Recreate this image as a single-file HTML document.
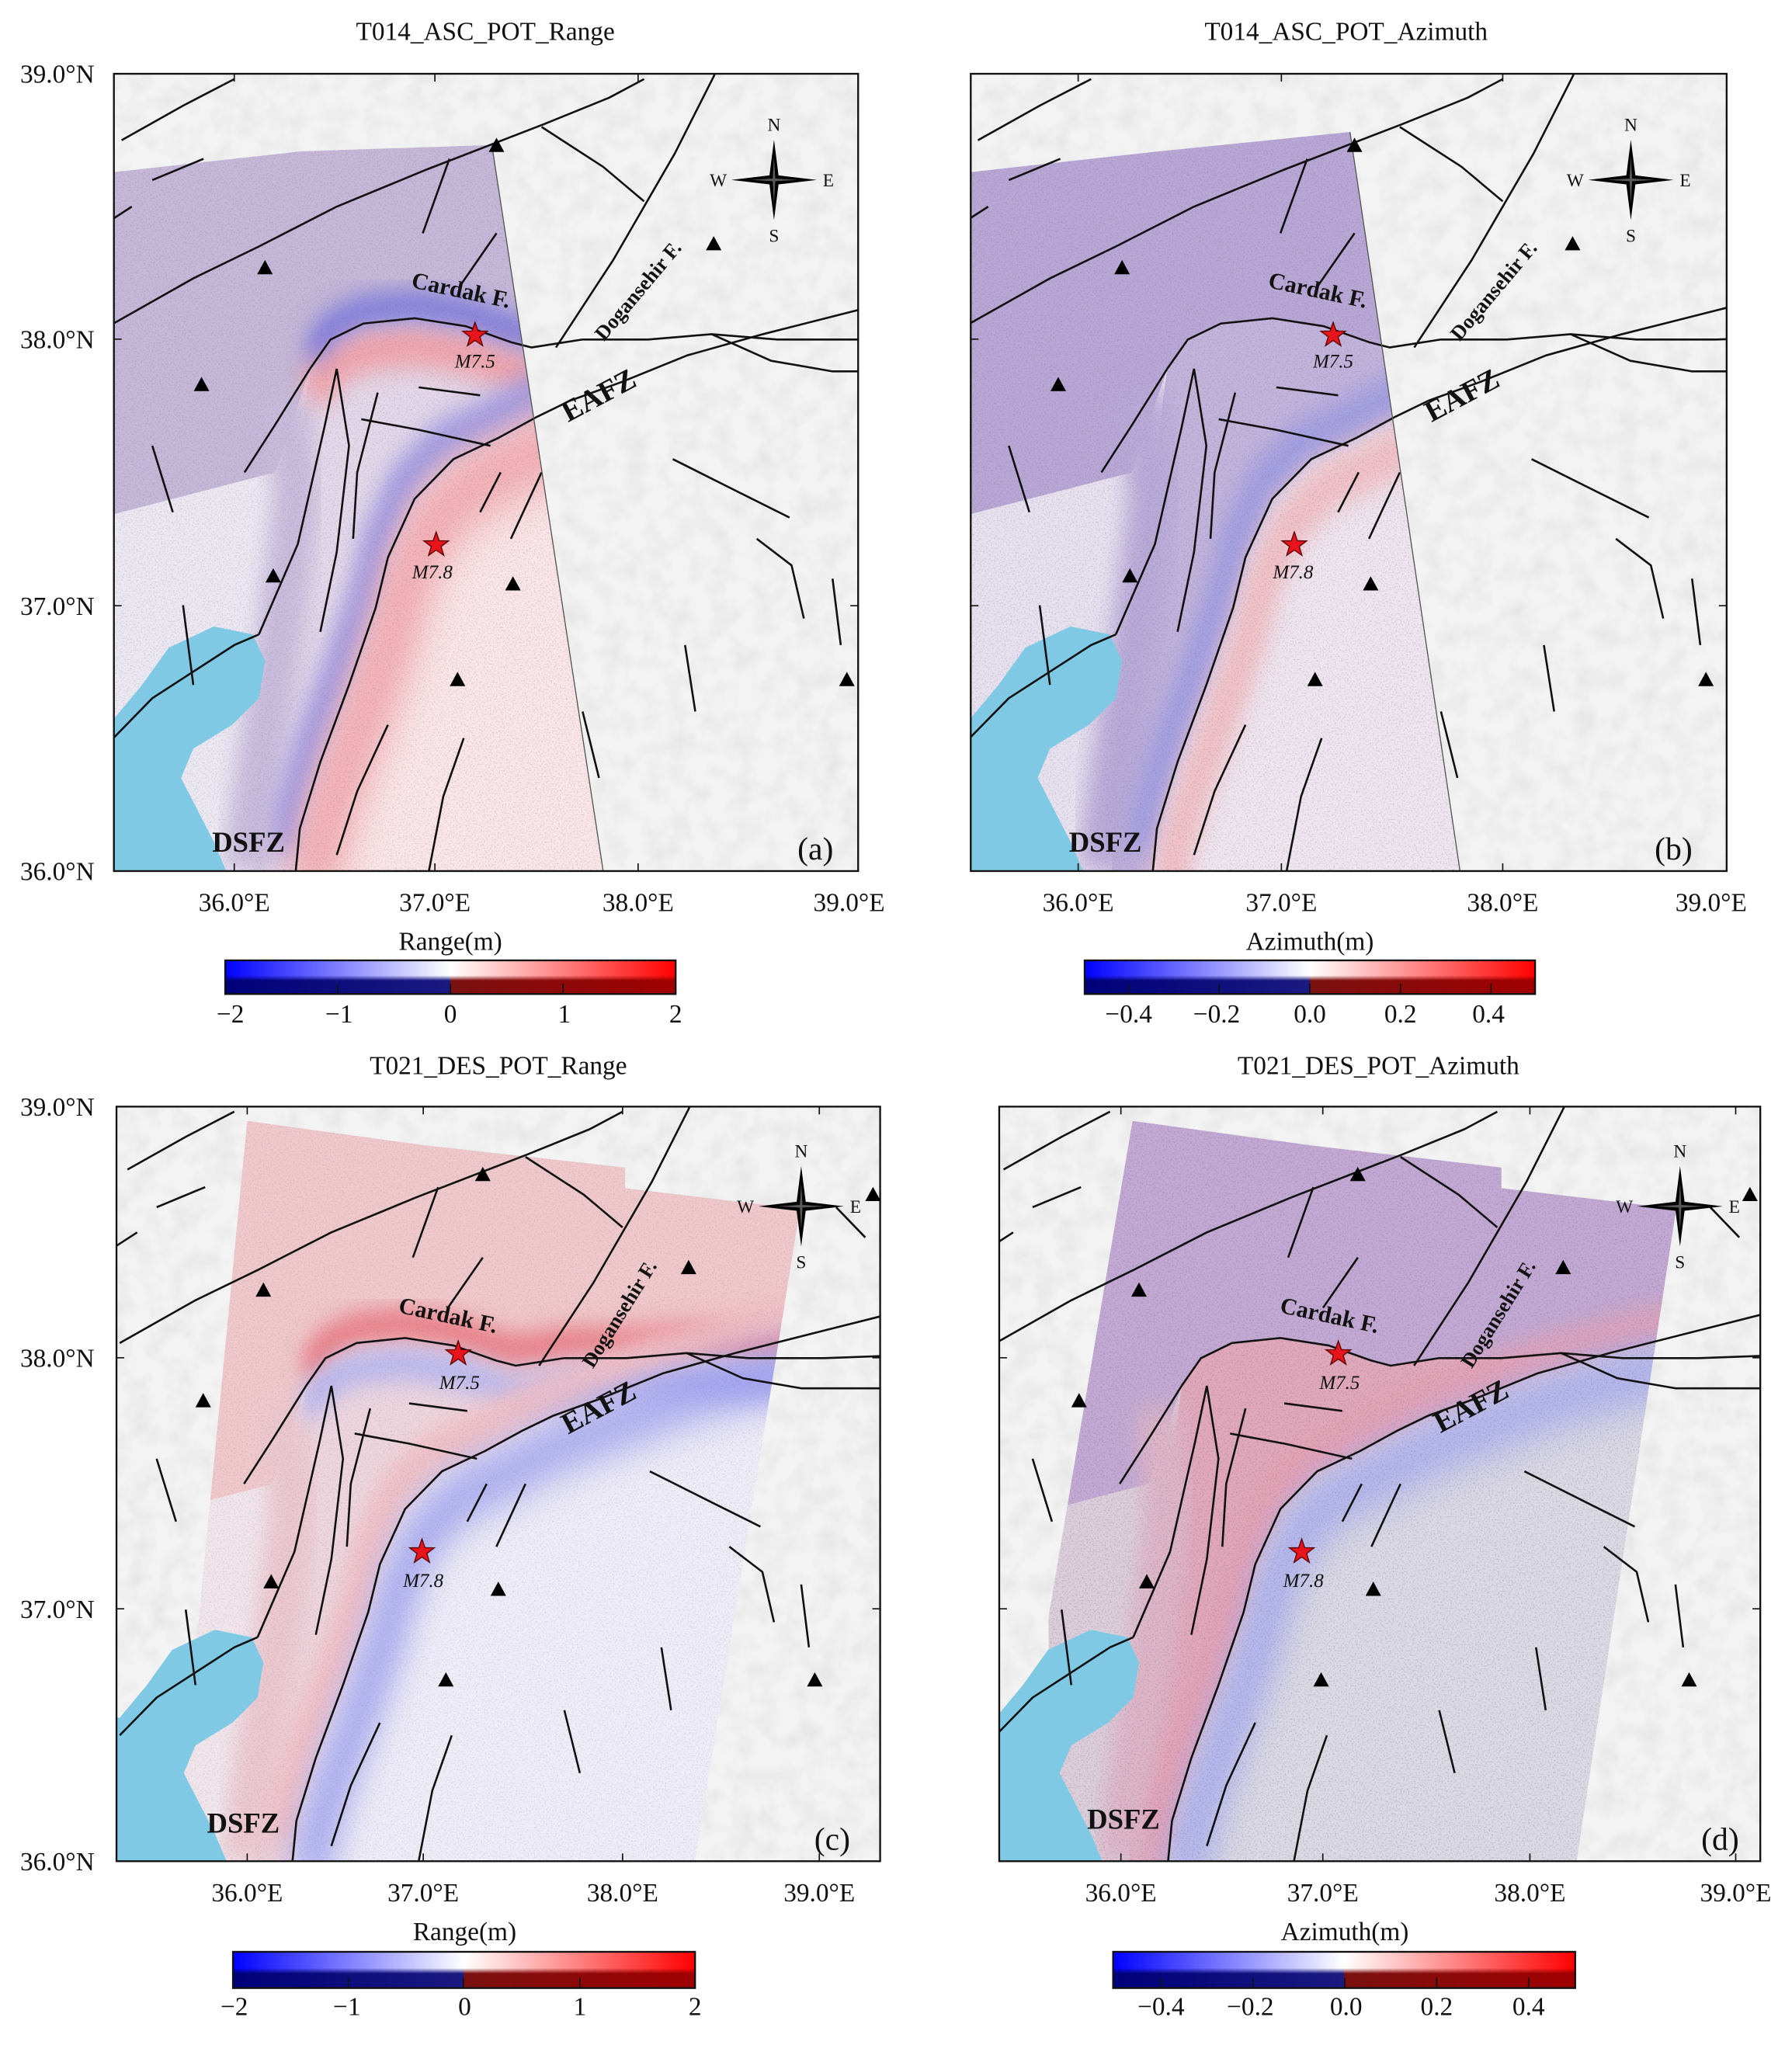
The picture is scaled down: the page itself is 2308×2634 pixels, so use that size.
<!DOCTYPE html>
<html><head><meta charset="utf-8"><style>
html,body{margin:0;padding:0;background:#fff;}
svg{display:block;}
text{font-family:"Liberation Serif",serif;fill:#111;}
</style></head><body>
<svg width="2308" height="2634" viewBox="0 0 1384.5 1580" preserveAspectRatio="none" xmlns="http://www.w3.org/2000/svg">
<defs>
<filter id="noise" x="0" y="0" width="100%" height="100%"><feTurbulence type="fractalNoise" baseFrequency="0.85" numOctaves="1" seed="3"/><feColorMatrix type="matrix" values="0 0 0 0 0.1  0 0 0 0 0.1  0 0 0 0 0.15  0 0 0 -2.4 1.25"/></filter>
<filter id="hill" x="0" y="0" width="100%" height="100%"><feTurbulence type="fractalNoise" baseFrequency="0.06" numOctaves="3" seed="7"/><feColorMatrix type="matrix" values="0 0 0 0 0.55  0 0 0 0 0.55  0 0 0 0 0.55  0 0 0 -1.2 0.75"/></filter>
<filter id="blur" x="-50%" y="-50%" width="200%" height="200%"><feGaussianBlur stdDeviation="5"/></filter>
<filter id="blur2" x="-50%" y="-50%" width="200%" height="200%"><feGaussianBlur stdDeviation="9"/></filter>
<path id="NORTH" d="M-80,-20 L340,-20 L340,100 L304,100 L265,100 L233,98 L202,100 L170,100 L145,103 L135,101 L113,95 L88,92 L63,94 L47,100 L37,111 L20,150 L-80,170 Z"/>
<path id="MID" d="M37,111 L47,100 L63,94 L88,92 L113,95 L135,101 L145,103 L170,100 L202,100 L233,98 L265,100 L304,100 L340,100 L340,85 L304,89 L258,98 L221,106 L189,116 L164,123 L148,129 L129,137 L107,145 L88,160 L75,182 L69,201 L56,230 L42,259 L32,284 L30,300 L10,300 L12,250 L20,200 L30,150 Z"/>
<path id="SOUTH" d="M30,300 L32,284 L42,259 L56,230 L69,201 L75,182 L88,160 L107,145 L129,137 L148,129 L164,123 L189,116 L221,106 L258,98 L304,89 L340,85 L340,320 L30,320 Z"/>
<path id="WEST" d="M-80,170 L20,150 L37,111 L30,150 L20,200 L12,250 L10,300 L-80,300 Z"/>
<path id="EAFZL" d="M30,300 L32,284 L42,259 L56,230 L69,201 L75,182 L88,160 L107,145 L129,137 L148,129 L164,123 L189,116 L221,106 L258,98 L304,89 L340,82"/>
<path id="CARL" d="M37,111 L47,100 L63,94 L88,92 L113,95 L135,101 L145,103 L170,100 L202,100 L233,98 L265,100 L304,100 L340,99"/>
<path id="LAKE" d="M-90,243 L-59,243 L-45,230 L-32,216 L-10,208 L9,211 L15,221 L12,235 L-1,245 L-20,254 L-26,265 L-20,274 L-10,289 L-4,300 L-4,320 L-90,320 Z"/>
<g id="FAULTS" fill="none" stroke="#111" stroke-width="2.6" stroke-linejoin="round">
<path vector-effect="non-scaling-stroke" d="M30,300 L32,284 L42,259 L56,230 L69,201 L75,182 L88,160 L107,145 L129,137 L148,129 L164,123 L189,116 L221,106 L258,98 L304,89 L340,82"/>
<path vector-effect="non-scaling-stroke" d="M37,111 L47,100 L63,94 L88,92 L113,95 L135,101 L145,103 L170,100 L202,100 L233,98 L265,100 L304,100 L340,99"/>
<path vector-effect="non-scaling-stroke" d="M157,103 L185,70 L215,30 L234,1 L240,-10"/>
<path vector-effect="non-scaling-stroke" d="M-59,94 L-20,77 L12,65 L50,50 L94,36 L151,19 L183,9 L200,2"/>
<path vector-effect="non-scaling-stroke" d="M12,211 L31,177 L44,133 L50,111"/>
<path vector-effect="non-scaling-stroke" d="M-59,250 L-40,235 L-20,225 L0,215 L12,211"/>
<path vector-effect="non-scaling-stroke" d="M50,294 L60,270 L75,245"/>
<path vector-effect="non-scaling-stroke" d="M95,300 L102,272 L112,250"/>
<path vector-effect="non-scaling-stroke" d="M214,145 L245,157 L271,167"/>
<path vector-effect="non-scaling-stroke" d="M255,175 L272,185 L278,205"/>
<path vector-effect="non-scaling-stroke" d="M292,190 L296,215"/>
<path vector-effect="non-scaling-stroke" d="M-55,25 L-25,12 L0,2"/>
<path vector-effect="non-scaling-stroke" d="M-40,40 L-15,32"/>
<path vector-effect="non-scaling-stroke" d="M150,20 L180,35 L200,48"/>
<path vector-effect="non-scaling-stroke" d="M105,32 L92,60"/>
<path vector-effect="non-scaling-stroke" d="M62,130 L90,134 L125,140"/>
<path vector-effect="non-scaling-stroke" d="M90,118 L120,121"/>
<path vector-effect="non-scaling-stroke" d="M37,111 L20,132 L5,150"/>
<path vector-effect="non-scaling-stroke" d="M50,111 L56,140 L50,180 L42,210"/>
<path vector-effect="non-scaling-stroke" d="M233,98 L262,108 L292,112 L340,112"/>
<path vector-effect="non-scaling-stroke" d="M-40,140 L-30,165"/>
<path vector-effect="non-scaling-stroke" d="M-25,200 L-20,230"/>
<path vector-effect="non-scaling-stroke" d="M120,165 L130,150"/>
<path vector-effect="non-scaling-stroke" d="M135,175 L150,150"/>
<path vector-effect="non-scaling-stroke" d="M170,240 L178,265"/>
<path vector-effect="non-scaling-stroke" d="M220,215 L225,240"/>
<path vector-effect="non-scaling-stroke" d="M310,40 L325,52"/>
<path vector-effect="non-scaling-stroke" d="M128,60 L110,80"/>
<path vector-effect="non-scaling-stroke" d="M70,120 L60,150 L58,175"/>
<path vector-effect="non-scaling-stroke" d="M-70,60 L-50,50"/>
</g>
<linearGradient id="cbtop" x1="0" x2="1" y1="0" y2="0"><stop offset="0" stop-color="#0000ff"/><stop offset="0.5" stop-color="#ffffff"/><stop offset="1" stop-color="#ff0000"/></linearGradient>
<linearGradient id="cbbot" x1="0" x2="1" y1="0" y2="0"><stop offset="0" stop-color="#00007a"/><stop offset="0.5" stop-color="#1a1a80"/><stop offset="0.5" stop-color="#7a1010"/><stop offset="1" stop-color="#a00000"/></linearGradient>
<linearGradient id="cbfade" x1="0" x2="0" y1="0" y2="1"><stop offset="0" stop-color="#fff" stop-opacity="0"/><stop offset="0.45" stop-color="#fff" stop-opacity="0"/><stop offset="0.6" stop-color="#fff" stop-opacity="1"/><stop offset="1" stop-color="#fff" stop-opacity="1"/></linearGradient>
<mask id="cbmask" maskContentUnits="objectBoundingBox"><rect width="1" height="1" fill="url(#cbfade)"/></mask>
<path id="STAR" d="M0,-10 L2.35,-3.24 L9.51,-3.09 L3.8,1.24 L5.88,8.09 L0,4 L-5.88,8.09 L-3.8,1.24 L-9.51,-3.09 L-2.35,-3.24 Z" fill="#e8141c" stroke="#5a0000" stroke-width="0.8"/>
<path id="TRI" d="M0,-6 L6,5 L-6,5 Z" fill="#000"/>
<g id="COMP"><path d="M0,-31 L3.5,-3.5 L33,0 L3.5,3.5 L0,31 L-3.5,3.5 L-33,0 L-3.5,-3.5 Z" fill="#000"/><path d="M0,-18 L1,-1 L18,0 L1,1 L0,18 L-1,1 L-18,0 L-1,-1Z" fill="#fff" opacity="0.35"/></g>
<clipPath id="fa"><rect x="88" y="57" width="575" height="616"/></clipPath>
<clipPath id="fb"><rect x="750" y="57" width="584" height="616"/></clipPath>
<clipPath id="fc"><rect x="90" y="855" width="590" height="583"/></clipPath>
<clipPath id="fd"><rect x="772" y="855" width="588" height="583"/></clipPath>
<clipPath id="sa"><path d="M88,133 L232,117 L380,112 L466,673 L88,673 Z"/></clipPath>
<clipPath id="sb"><path d="M750,133 L895,117 L1043,102 L1128,673 L750,673 Z"/></clipPath>
<clipPath id="sc"><path d="M191,866 L329,885 L483,902 L483,918 L618,934 L537,1438 L134,1438 L140,1390 Z"/></clipPath>
<clipPath id="sd"><path d="M875,866 L1013,885 L1160,902 L1160,918 L1295,934 L1218,1438 L812,1438 L810,1250 Z"/></clipPath>
</defs>
<rect width="1384.5" height="1580" fill="#fff"/>

<!-- ============ PANEL A ============ -->
<g clip-path="url(#fa)">
<rect x="88" y="57" width="575" height="616" fill="#f3f3f3"/>
<rect x="88" y="57" width="575" height="616" filter="url(#hill)" opacity="0.4"/>
<g clip-path="url(#sa)">
<g transform="matrix(1.583,0,0,2.053,181,57)">
<rect x="-80" y="-30" width="420" height="360" fill="#efebf4"/>
<use href="#NORTH" fill="#c6b8d8"/>
<use href="#MID" fill="#e4d9ea"/>
<use href="#SOUTH" fill="#fbe6e8"/>
<use href="#WEST" fill="#ede9f3"/>
<path d="M25,120 L30,160 L22,210 L12,260 L5,300" fill="none" stroke="#c9bbdd" stroke-width="22" filter="url(#blur)"/>
<use href="#CARL" transform="translate(0,10)" fill="none" stroke="#f2a3aa" stroke-width="16" filter="url(#blur)"/>
<use href="#CARL" transform="translate(0,-5)" fill="none" stroke="#6f6fe0" stroke-width="9" filter="url(#blur)"/>
<use href="#EAFZL" transform="translate(-5,-7)" fill="none" stroke="#9a97e6" stroke-width="14" filter="url(#blur)"/>
<use href="#EAFZL" transform="translate(8,10)" fill="none" stroke="#f3a9ae" stroke-width="24" filter="url(#blur2)"/>
</g>
<rect x="88" y="57" width="575" height="616" filter="url(#noise)" opacity="0.25"/>
</g>
<g transform="matrix(1.583,0,0,2.053,181,57)"><use href="#LAKE" fill="#7fc9e5"/><use href="#FAULTS"/></g>
<path d="M380,112 L466,673" stroke="#555" stroke-width="0.8"/>
</g>
<rect x="88" y="57" width="575" height="616" fill="none" stroke="#111" stroke-width="1.4"/>
<g stroke="#111" stroke-width="1"><path d="M181,673v-6M336,673v-6M493,673v-6M181,57v6M336,57v6M493,57v6M88,262h6M88,468h6M663,262h-6M663,468h-6"/></g>
<use href="#TRI" x="383.6" y="112.4"/><use href="#TRI" x="204.7" y="206.9"/><use href="#TRI" x="155.7" y="297.2"/><use href="#TRI" x="551.4" y="188.4"/><use href="#TRI" x="396.3" y="451.2"/><use href="#TRI" x="211.1" y="445"/><use href="#TRI" x="353.5" y="525.1"/><use href="#TRI" x="654.3" y="525.1"/>
<use href="#STAR" x="367" y="259"/><use href="#STAR" x="337" y="421"/>
<use href="#COMP" x="598" y="139"/>
<text x="598" y="101" font-size="14" text-anchor="middle">N</text><text x="598" y="187" font-size="14" text-anchor="middle">S</text><text x="555" y="144" font-size="14" text-anchor="middle">W</text><text x="640" y="144" font-size="14" text-anchor="middle">E</text>
<text x="355" y="230" font-size="18" font-weight="bold" text-anchor="middle" transform="rotate(12 355 230)">Cardak F.</text>
<text x="497" y="228" font-size="16" font-weight="bold" text-anchor="middle" transform="rotate(-50 497 228)">Dogansehir F.</text>
<text x="466" y="312" font-size="23" font-weight="bold" text-anchor="middle" transform="rotate(-28 466 312)">EAFZ</text>
<text x="192" y="658" font-size="22" font-weight="bold" text-anchor="middle">DSFZ</text>
<text x="367" y="284" font-size="15" font-style="italic" text-anchor="middle">M7.5</text>
<text x="334" y="447" font-size="15" font-style="italic" text-anchor="middle">M7.8</text>
<text x="630" y="664" font-size="25" text-anchor="middle">(a)</text>
<text x="375" y="31" font-size="20" text-anchor="middle">T014_ASC_POT_Range</text>
<g font-size="20" text-anchor="end"><text x="73" y="64">39.0°N</text><text x="73" y="269">38.0°N</text><text x="73" y="475">37.0°N</text><text x="73" y="680">36.0°N</text></g>
<g font-size="20" text-anchor="middle"><text x="181" y="704">36.0°E</text><text x="336" y="704">37.0°E</text><text x="493" y="704">38.0°E</text><text x="656" y="704">39.0°E</text></g>
<text x="348" y="734" font-size="20" text-anchor="middle">Range(m)</text>
<rect x="174" y="742" width="348" height="26" fill="url(#cbtop)"/><rect x="174" y="742" width="348" height="26" fill="url(#cbbot)" mask="url(#cbmask)"/>
<rect x="174" y="742" width="348" height="26" fill="none" stroke="#111" stroke-width="1.4"/>
<g stroke="#111" stroke-width="1"><path d="M174,768v-8M261,768v-8M348,768v-8M435,768v-8M522,768v-8"/></g>
<g font-size="20" text-anchor="middle"><text x="178" y="790">−2</text><text x="262" y="790">−1</text><text x="348" y="790">0</text><text x="436" y="790">1</text><text x="522" y="790">2</text></g>

<!-- ============ PANEL B ============ -->
<g clip-path="url(#fb)">
<rect x="750" y="57" width="584" height="616" fill="#f3f3f3"/>
<rect x="750" y="57" width="584" height="616" filter="url(#hill)" opacity="0.4"/>
<g clip-path="url(#sb)">
<g transform="matrix(1.59,0,0,2.053,843,57)">
<rect x="-80" y="-30" width="420" height="360" fill="#eeebf4"/>
<use href="#NORTH" fill="#b9a7d5"/>
<use href="#MID" fill="#c3b4dc"/>
<use href="#SOUTH" fill="#efe6f0"/>
<use href="#WEST" fill="#e8e2f0"/>
<path d="M25,120 L30,160 L22,210 L12,260 L5,300" fill="none" stroke="#b9aad8" stroke-width="24" filter="url(#blur)"/>
<use href="#EAFZL" transform="translate(-5,-7)" fill="none" stroke="#a09de2" stroke-width="14" filter="url(#blur)"/>
<use href="#EAFZL" transform="translate(8,10)" fill="none" stroke="#f2c0c6" stroke-width="18" filter="url(#blur)"/>
</g>
<rect x="750" y="57" width="584" height="616" filter="url(#noise)" opacity="0.28"/>
</g>
<g transform="matrix(1.59,0,0,2.053,843,57)"><use href="#LAKE" fill="#7fc9e5"/><use href="#FAULTS"/></g>
<path d="M1043,102 L1128,673" stroke="#555" stroke-width="0.8"/>
</g>
<rect x="750" y="57" width="584" height="616" fill="none" stroke="#111" stroke-width="1.4"/>
<g stroke="#111" stroke-width="1"><path d="M833,673v-6M990,673v-6M1161,673v-6M833,57v6M990,57v6M1161,57v6M750,262h6M750,468h6M1334,262h-6M1334,468h-6"/></g>
<use href="#TRI" x="1046.5" y="112.4"/><use href="#TRI" x="866.9" y="206.9"/><use href="#TRI" x="817.6" y="297.2"/><use href="#TRI" x="1215" y="188.4"/><use href="#TRI" x="1059" y="451.2"/><use href="#TRI" x="873" y="445"/><use href="#TRI" x="1016" y="525.1"/><use href="#TRI" x="1318" y="525.1"/>
<use href="#STAR" x="1030" y="259"/><use href="#STAR" x="1000" y="421"/>
<use href="#COMP" x="1260" y="139"/>
<text x="1260" y="101" font-size="14" text-anchor="middle">N</text><text x="1260" y="187" font-size="14" text-anchor="middle">S</text><text x="1217" y="144" font-size="14" text-anchor="middle">W</text><text x="1302" y="144" font-size="14" text-anchor="middle">E</text>
<text x="1017" y="230" font-size="18" font-weight="bold" text-anchor="middle" transform="rotate(12 1017 230)">Cardak F.</text>
<text x="1158" y="228" font-size="16" font-weight="bold" text-anchor="middle" transform="rotate(-50 1158 228)">Dogansehir F.</text>
<text x="1133" y="312" font-size="23" font-weight="bold" text-anchor="middle" transform="rotate(-28 1133 312)">EAFZ</text>
<text x="854" y="658" font-size="22" font-weight="bold" text-anchor="middle">DSFZ</text>
<text x="1030" y="284" font-size="15" font-style="italic" text-anchor="middle">M7.5</text>
<text x="999" y="447" font-size="15" font-style="italic" text-anchor="middle">M7.8</text>
<text x="1293" y="664" font-size="25" text-anchor="middle">(b)</text>
<text x="1040" y="31" font-size="20" text-anchor="middle">T014_ASC_POT_Azimuth</text>
<g font-size="20" text-anchor="middle"><text x="833" y="704">36.0°E</text><text x="990" y="704">37.0°E</text><text x="1161" y="704">38.0°E</text><text x="1322" y="704">39.0°E</text></g>
<text x="1012" y="734" font-size="20" text-anchor="middle">Azimuth(m)</text>
<rect x="838" y="742" width="348" height="26" fill="url(#cbtop)"/><rect x="838" y="742" width="348" height="26" fill="url(#cbbot)" mask="url(#cbmask)"/>
<rect x="838" y="742" width="348" height="26" fill="none" stroke="#111" stroke-width="1.4"/>
<g stroke="#111" stroke-width="1"><path d="M872,768v-8M942,768v-8M1012,768v-8M1082,768v-8M1152,768v-8"/></g>
<g font-size="20" text-anchor="middle"><text x="872" y="790">−0.4</text><text x="940" y="790">−0.2</text><text x="1012" y="790">0.0</text><text x="1082" y="790">0.2</text><text x="1150" y="790">0.4</text></g>

<!-- ============ PANEL C ============ -->
<g clip-path="url(#fc)">
<rect x="90" y="855" width="590" height="583" fill="#f3f3f3"/>
<rect x="90" y="855" width="590" height="583" filter="url(#hill)" opacity="0.4"/>
<g clip-path="url(#sc)">
<g transform="matrix(1.5,0,0,1.943,181,855)">
<rect x="-80" y="-30" width="440" height="360" fill="#f0eef7"/>
<use href="#NORTH" fill="#f0c9cc"/>
<use href="#MID" fill="#eed6de"/>
<use href="#SOUTH" fill="#efedf7"/>
<use href="#WEST" fill="#f1e6ec"/>
<path d="M25,120 L30,160 L22,210 L12,260 L5,300" fill="none" stroke="#ecc8d0" stroke-width="24" filter="url(#blur)"/>
<use href="#CARL" transform="translate(0,-6)" fill="none" stroke="#ea6f78" stroke-width="10" filter="url(#blur)"/>
<use href="#CARL" transform="translate(0,10)" fill="none" stroke="#b6b6f0" stroke-width="12" filter="url(#blur)"/>
<use href="#EAFZL" transform="translate(-6,-8)" fill="none" stroke="#f3c0c5" stroke-width="14" filter="url(#blur)"/>
<use href="#EAFZL" transform="translate(9,10)" fill="none" stroke="#9598ef" stroke-width="16" filter="url(#blur2)"/>
</g>
<rect x="90" y="855" width="590" height="583" filter="url(#noise)" opacity="0.2"/>
</g>
<g transform="matrix(1.5,0,0,1.943,181,855)"><use href="#LAKE" fill="#7fc9e5"/><use href="#FAULTS"/></g>
</g>
<rect x="90" y="855" width="590" height="583" fill="none" stroke="#111" stroke-width="1.4"/>
<g stroke="#111" stroke-width="1"><path d="M191,1438v-6M327,1438v-6M481,1438v-6M633,1438v-6M191,855v6M327,855v6M481,855v6M633,855v6M90,1049h6M90,1243h6M680,1049h-6M680,1243h-6"/></g>
<use href="#TRI" x="373" y="907.5"/><use href="#TRI" x="203.5" y="996.8"/><use href="#TRI" x="157" y="1082.3"/><use href="#TRI" x="532" y="979.4"/><use href="#TRI" x="385" y="1228"/><use href="#TRI" x="209.5" y="1222.2"/><use href="#TRI" x="344.5" y="1298"/><use href="#TRI" x="629.5" y="1298"/><use href="#TRI" x="674.5" y="923"/>
<use href="#STAR" x="354" y="1046"/><use href="#STAR" x="326" y="1199"/>
<use href="#COMP" x="619" y="932"/>
<text x="619" y="894" font-size="14" text-anchor="middle">N</text><text x="619" y="980" font-size="14" text-anchor="middle">S</text><text x="576" y="937" font-size="14" text-anchor="middle">W</text><text x="661" y="937" font-size="14" text-anchor="middle">E</text>
<text x="345" y="1022" font-size="18" font-weight="bold" text-anchor="middle" transform="rotate(12 345 1022)">Cardak F.</text>
<text x="483" y="1018" font-size="16" font-weight="bold" text-anchor="middle" transform="rotate(-58 483 1018)">Dogansehir F.</text>
<text x="466" y="1094" font-size="23" font-weight="bold" text-anchor="middle" transform="rotate(-28 466 1094)">EAFZ</text>
<text x="188" y="1416" font-size="22" font-weight="bold" text-anchor="middle">DSFZ</text>
<text x="355" y="1073" font-size="15" font-style="italic" text-anchor="middle">M7.5</text>
<text x="327" y="1226" font-size="15" font-style="italic" text-anchor="middle">M7.8</text>
<text x="643" y="1429" font-size="25" text-anchor="middle">(c)</text>
<text x="385" y="830" font-size="20" text-anchor="middle">T021_DES_POT_Range</text>
<g font-size="20" text-anchor="end"><text x="73" y="862">39.0°N</text><text x="73" y="1056">38.0°N</text><text x="73" y="1250">37.0°N</text><text x="73" y="1445">36.0°N</text></g>
<g font-size="20" text-anchor="middle"><text x="191" y="1469">36.0°E</text><text x="327" y="1469">37.0°E</text><text x="481" y="1469">38.0°E</text><text x="633" y="1469">39.0°E</text></g>
<text x="359" y="1499" font-size="20" text-anchor="middle">Range(m)</text>
<rect x="180" y="1508" width="357" height="28" fill="url(#cbtop)"/><rect x="180" y="1508" width="357" height="28" fill="url(#cbbot)" mask="url(#cbmask)"/>
<rect x="180" y="1508" width="357" height="28" fill="none" stroke="#111" stroke-width="1.4"/>
<g stroke="#111" stroke-width="1"><path d="M269,1536v-8M358,1536v-8M448,1536v-8"/></g>
<g font-size="20" text-anchor="middle"><text x="181" y="1557">−2</text><text x="268" y="1557">−1</text><text x="359" y="1557">0</text><text x="448" y="1557">1</text><text x="537" y="1557">2</text></g>

<!-- ============ PANEL D ============ -->
<g clip-path="url(#fd)">
<rect x="772" y="855" width="588" height="583" fill="#f3f3f3"/>
<rect x="772" y="855" width="588" height="583" filter="url(#hill)" opacity="0.4"/>
<g clip-path="url(#sd)">
<g transform="matrix(1.496,0,0,1.943,857.6,855)">
<rect x="-80" y="-30" width="440" height="360" fill="#dedce4"/>
<use href="#NORTH" fill="#c3a9d4"/>
<use href="#MID" fill="#e2a8bb"/>
<use href="#SOUTH" fill="#dcdae4"/>
<use href="#WEST" fill="#ddcfdc"/>
<path d="M25,120 L30,160 L22,210 L12,260 L5,300" fill="none" stroke="#deb6c8" stroke-width="24" filter="url(#blur)"/>
<use href="#EAFZL" transform="translate(-4,-6)" fill="none" stroke="#eaa0b0" stroke-width="12" filter="url(#blur)"/>
<use href="#EAFZL" transform="translate(9,10)" fill="none" stroke="#a8acf0" stroke-width="20" filter="url(#blur2)"/>
</g>
<rect x="772" y="855" width="588" height="583" filter="url(#noise)" opacity="0.32"/>
</g>
<g transform="matrix(1.496,0,0,1.943,857.6,855)"><use href="#LAKE" fill="#7fc9e5"/><use href="#FAULTS"/></g>
</g>
<rect x="772" y="855" width="588" height="583" fill="none" stroke="#111" stroke-width="1.4"/>
<g stroke="#111" stroke-width="1"><path d="M866,1438v-6M1022,1438v-6M1182,1438v-6M1341,1438v-6M866,855v6M1022,855v6M1182,855v6M1341,855v6M772,1049h6M772,1243h6M1360,1049h-6M1360,1243h-6"/></g>
<use href="#TRI" x="1049" y="907.5"/><use href="#TRI" x="880" y="996.8"/><use href="#TRI" x="833.7" y="1082.3"/><use href="#TRI" x="1207.7" y="979.4"/><use href="#TRI" x="1061" y="1228"/><use href="#TRI" x="886" y="1222.2"/><use href="#TRI" x="1020.7" y="1298"/><use href="#TRI" x="1305" y="1298"/><use href="#TRI" x="1352" y="923"/>
<use href="#STAR" x="1034" y="1046"/><use href="#STAR" x="1005.7" y="1199"/>
<use href="#COMP" x="1298" y="932"/>
<text x="1298" y="894" font-size="14" text-anchor="middle">N</text><text x="1298" y="980" font-size="14" text-anchor="middle">S</text><text x="1255" y="937" font-size="14" text-anchor="middle">W</text><text x="1340" y="937" font-size="14" text-anchor="middle">E</text>
<text x="1026" y="1022" font-size="18" font-weight="bold" text-anchor="middle" transform="rotate(12 1026 1022)">Cardak F.</text>
<text x="1162" y="1018" font-size="16" font-weight="bold" text-anchor="middle" transform="rotate(-58 1162 1018)">Dogansehir F.</text>
<text x="1140" y="1093" font-size="23" font-weight="bold" text-anchor="middle" transform="rotate(-28 1140 1093)">EAFZ</text>
<text x="868" y="1413" font-size="22" font-weight="bold" text-anchor="middle">DSFZ</text>
<text x="1035" y="1073" font-size="15" font-style="italic" text-anchor="middle">M7.5</text>
<text x="1007" y="1226" font-size="15" font-style="italic" text-anchor="middle">M7.8</text>
<text x="1329" y="1429" font-size="25" text-anchor="middle">(d)</text>
<text x="1065" y="830" font-size="20" text-anchor="middle">T021_DES_POT_Azimuth</text>
<g font-size="20" text-anchor="middle"><text x="866" y="1469">36.0°E</text><text x="1022" y="1469">37.0°E</text><text x="1182" y="1469">38.0°E</text><text x="1341" y="1469">39.0°E</text></g>
<text x="1039" y="1499" font-size="20" text-anchor="middle">Azimuth(m)</text>
<rect x="860" y="1508" width="357" height="28" fill="url(#cbtop)"/><rect x="860" y="1508" width="357" height="28" fill="url(#cbbot)" mask="url(#cbmask)"/>
<rect x="860" y="1508" width="357" height="28" fill="none" stroke="#111" stroke-width="1.4"/>
<g stroke="#111" stroke-width="1"><path d="M897,1536v-8M968,1536v-8M1039,1536v-8M1110,1536v-8M1181,1536v-8"/></g>
<g font-size="20" text-anchor="middle"><text x="897" y="1557">−0.4</text><text x="966" y="1557">−0.2</text><text x="1040" y="1557">0.0</text><text x="1110" y="1557">0.2</text><text x="1181" y="1557">0.4</text></g>
</svg>
</body></html>
